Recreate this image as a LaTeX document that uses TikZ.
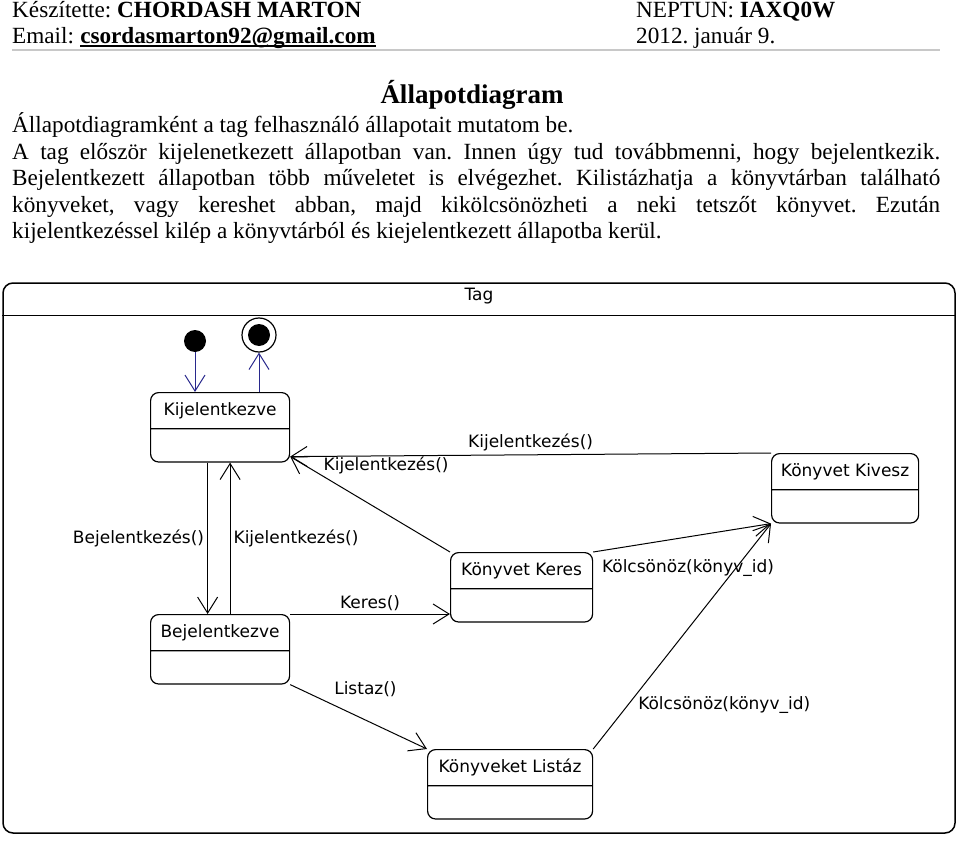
\documentclass[tikz,border=0pt]{standalone}
\usepackage{fontspec}
\setmainfont{Liberation Serif}
\newfontfamily\umlfont{DejaVu Sans}
\usetikzlibrary{arrows.meta, shapes.multipart}
\usetikzlibrary{positioning}

\definecolor{initline}{RGB}{40,40,140}
\definecolor{rulegray}{RGB}{200,200,200}
\frenchspacing

\begin{document}
\begin{tikzpicture}[x=1pt, y=-1pt,
    page_text/.style={font=\fontsize{23.2}{26.5}\selectfont, inner sep=0pt, anchor=base west},
    doc_title/.style={font=\bfseries\fontsize{27}{30}\selectfont, inner sep=0pt, anchor=base},
    frame/.style={draw, line width=1.5pt, rounded corners=10pt, minimum width=952pt, minimum height=550pt, inner sep=0pt},
    uml/.style={font=\umlfont\fontsize{17}{20}\selectfont},
    state/.style={uml, rectangle split, rectangle split parts=2, draw, line width=1.2pt,
                  rounded corners=8pt, inner xsep=6pt, inner ysep=9pt,
                  text height=13pt, text depth=4pt,
                  rectangle split empty part height=10pt, rectangle split empty part depth=4pt,
                  anchor=north west},
    start_state/.style={circle, fill=black, minimum size=22pt, inner sep=0pt},
    stop_state/.style={circle, draw, line width=1.2pt, minimum size=34pt, inner sep=0pt,
                  path picture={\fill (path picture bounding box.center) circle (11pt);}},
    trans/.style={draw, line width=1pt, -{Straight Barb[length=16pt, width=20pt]}},
    start_trans/.style={trans, draw=initline},
    trans_label/.style={uml, inner sep=3pt}
]

\useasboundingbox (0,0) rectangle (960,842);

% header
\node[page_text] (author) at (12,18) {Készítette: \textbf{CHORDASH MARTON}};
\node[page_text] (neptun) at (636,18) {NEPTUN: \textbf{IAXQ0W}};
\node[page_text] (email)  at (12,44) {Email:};
\node[page_text, font=\bfseries\fontsize{23.2}{26.5}\selectfont] (email_addr) at ([xshift=5.8pt]email.base east) {csordasmarton92@gmail.com};
\draw[line width=1.2pt] ([yshift=-2pt]email_addr.base west) -- ([yshift=-2pt]email_addr.base east);
\node[page_text] (date)   at (636,44) {2012. január 9.};
\draw[rulegray, line width=2pt] (12,50) -- (940,50);

% text
\node[doc_title] (diagram_title) at (472,104) {Állapotdiagram};
\node[page_text] (intro_1) at (12,133) {Állapotdiagramként a tag felhasználó állapotait mutatom be.};
\node[page_text] (intro_2) at (12,159.5) {\makebox[928pt][s]{A tag először kijelenetkezett állapotban van. Innen úgy tud továbbmenni, hogy bejelentkezik.}};
\node[page_text] (intro_3) at (12,186) {\makebox[928pt][s]{Bejelentkezett állapotban több műveletet is elvégezhet. Kilistázhatja a könyvtárban található}};
\node[page_text] (intro_4) at (12,212.5) {\makebox[928pt][s]{könyveket, vagy kereshet abban, majd kikölcsönözheti a neki tetszőt könyvet. Ezután}};
\node[page_text] (intro_5) at (12,239) {kijelentkezéssel kilép a könyvtárból és kiejelentkezett állapotba kerül.};

% diagram frame
\node[frame] (tag_frame) at (479,558) {};
\node[uml, below=2pt] (tag_name) at (tag_frame.north) {Tag};
\draw[line width=1.2pt] ([yshift=-33pt]tag_frame.north west) -- ([yshift=-33pt]tag_frame.north east);

% states
\node[start_state] (start) at (195,341) {};
\node[stop_state] (stop) at (259,335) {};
\node[state, minimum width=139pt] (kijelentkezve) at (150,392) {Kijelentkezve\nodepart{two}};
\node[state, minimum width=139pt] (bejelentkezve) at (150,614) {Bejelentkezve\nodepart{two}};
\node[state, minimum width=142pt] (keres) at (450,552) {Könyvet Keres\nodepart{two}};
\node[state, minimum width=147pt] (kivesz) at (771,453) {Könyvet Kivesz\nodepart{two}};
\node[state, minimum width=165pt] (listaz) at (427,749) {Könyveket Listáz\nodepart{two}};

\coordinate (kij_in) at ([yshift=6pt]kijelentkezve.south east);

% transitions
\draw[start_trans] (start.south) -- (start.south |- kijelentkezve.north);
\draw[start_trans] (kijelentkezve.north -| stop.south) -- (stop.south);

\draw[trans] ([xshift=-12.5pt]kijelentkezve.south) --
    node[trans_label, midway, left] {Bejelentkezés()} ([xshift=-12.5pt]bejelentkezve.north);
\draw[trans] ([xshift=10pt]bejelentkezve.north) --
    node[trans_label, midway, right] {Kijelentkezés()} ([xshift=10pt]kijelentkezve.south);

\draw[trans] (kivesz.north west) -- node[trans_label, midway, above] {Kijelentkezés()} (kij_in);
\draw[trans] (keres.north west) -- node[trans_label, pos=0.9, right=14pt, yshift=1pt] {Kijelentkezés()} (kij_in);

\draw[trans] (bejelentkezve.north east) -- node[trans_label, midway, above] {Keres()} (bejelentkezve.north east -| keres.west);
\draw[trans] (bejelentkezve.south east) -- node[trans_label, pos=0.55, above=20pt] {Listaz()} (listaz.north west);

\draw[trans] (keres.north east) -- node[trans_label, pos=0.03, below right, yshift=-5pt] {Kölcsönöz(könyv\_id)} (kivesz.south west);
\draw[trans] (listaz.north east) -- node[trans_label, pos=0.2, right=6pt, yshift=-1pt] {Kölcsönöz(könyv\_id)} (kivesz.south west);

\end{tikzpicture}
\end{document}
